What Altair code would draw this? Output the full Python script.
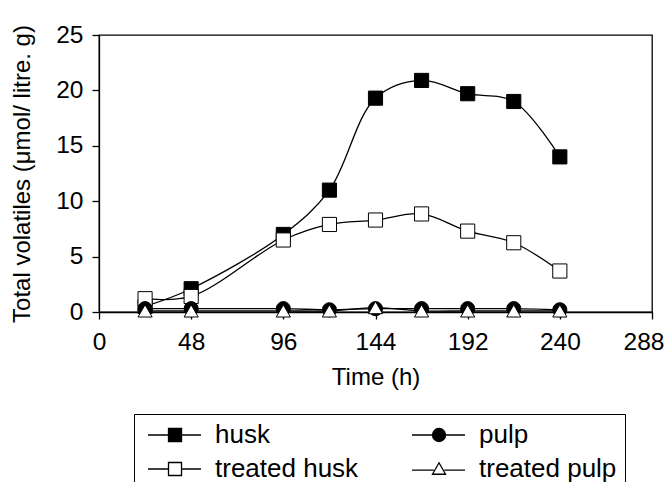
import altair as alt
import pandas as pd

hours = [24, 48, 96, 120, 144, 168, 192, 216, 240]
husk = [0.5, 2.1, 7.0, 11.0, 19.3, 20.9, 19.7, 19.0, 14.0]
treated_husk = [1.2, 1.4, 6.5, 7.9, 8.3, 8.85, 7.3, 6.25, 3.7]
pulp = [0.3, 0.3, 0.3, 0.2, 0.3, 0.3, 0.3, 0.3, 0.2]
treated_pulp = [0.1, 0.1, 0.1, 0.1, 0.4, 0.1, 0.1, 0.1, 0.1]

series_names = ["husk", "treated husk", "pulp", "treated pulp"]
series_values = [husk, treated_husk, pulp, treated_pulp]
legend_order = ["husk", "pulp", "treated husk", "treated pulp"]

x_ticks = [0, 48, 96, 144, 192, 240, 288]
y_ticks = [0, 5, 10, 15, 20, 25]

rows = []
for k, (name, vals) in enumerate(zip(series_names, series_values)):
    for h, v in zip(hours, vals):
        rows.append({"series": name, "hour": h, "value": v, "k": k})
df = pd.DataFrame(rows)

FONT = "Liberation Sans"
x_last = x_ticks[-1]

x_enc = alt.X("hour:Q", scale=alt.Scale(domain=[0, 288], nice=False),
              axis=alt.Axis(values=x_ticks, title="Time (h)", labelPadding=11,
                            titlePadding=12, labelFlush=False,
                            labelAlign={"condition": {"test": f"datum.value == {x_last}", "value": "right"},
                                        "value": "center"},
                            labelOffset={"condition": {"test": f"datum.value == {x_last}", "value": 12},
                                         "value": 0}))
y_enc = alt.Y("value:Q", scale=alt.Scale(domain=[0, 25], nice=False),
              axis=alt.Axis(values=y_ticks, title="Total volatiles (\u03bcmol/ litre. g)",
                            labelPadding=9, titlePadding=21, labelFlush=False))

lines = alt.Chart(df).mark_line(color="black", strokeWidth=1.3, interpolate="catmull-rom").encode(
    x=x_enc, y=y_enc, detail="series:N"
)

points = alt.Chart(df).mark_point(size=200, stroke="black", strokeWidth=1, opacity=1).encode(
    x="hour:Q", y="value:Q",
    shape=alt.Shape("series:N", scale=alt.Scale(domain=series_names,
                    range=["square", "square", "circle", "triangle-up"]), legend=None),
    fill=alt.Fill("series:N", scale=alt.Scale(domain=series_names,
                  range=["black", "white", "black", "white"]), legend=None),
    order=alt.Order("k:Q"),
)

# legend symbols: a line with the marker on it (unit = 7 px)
c = 2.86
e = 6.57
s = 0.93
sq = f"M-1,0H{c - s}M{c + s},0H{e}M{c - s},-{s}H{c + s}V{s}H{c - s}Z"
ci = f"M-1,0H{c - s}M{c + s},0H{e}M{c - s},0A{s},{s} 0 1,0 {c + s},0A{s},{s} 0 1,0 {c - s},0Z"
tr = f"M-1,0.15H{c - 0.75}M{c + 0.75},0.15H{e}M{c - s},0.75L{c},-0.9L{c + s},0.75Z"
legend_shapes = [sq, ci, sq, tr]
legend_fills = ["black", "black", "white", "white"]

leg = alt.Legend(
    title=None, orient="none", legendX=35, legendY=379, columns=2,
    direction="horizontal",
    symbolSize=196, symbolStrokeWidth=1.3,
    labelFont=FONT, labelFontSize=26, labelColor="black", labelOffset=47,
    columnPadding=47, rowPadding=8, padding=8,
    strokeColor="black", symbolOpacity=1,
)

dummy = alt.Chart(df).mark_point(size=196).encode(
    x="hour:Q", y="value:Q",
    shape=alt.Shape("series:N", scale=alt.Scale(domain=legend_order, range=legend_shapes), legend=leg),
    fill=alt.Fill("series:N", scale=alt.Scale(domain=legend_order, range=legend_fills), legend=leg),
    stroke=alt.Stroke("series:N", scale=alt.Scale(domain=legend_order, range=["black"] * 4), legend=leg),
).transform_filter("false")

chart = alt.layer(lines, points, dummy).resolve_scale(
    shape="independent", fill="independent", stroke="independent"
).properties(
    width=553, height=277,
    autosize=alt.AutoSizeParams(type="none"),
    padding={"left": 91, "top": 27, "right": 12, "bottom": 170},
).configure_view(
    stroke="black", strokeWidth=1.3
).configure_axis(
    grid=False, domainColor="black", domainWidth=1.3, tickColor="black", tickSize=7,
    tickWidth=1.3, labelFont=FONT, labelFontSize=24.5, labelColor="black",
    titleFont=FONT, titleFontSize=24, titleFontWeight="normal",
    titleColor="black",
)

chart.save("out.html", embed_options={"renderer": "svg", "actions": False})
